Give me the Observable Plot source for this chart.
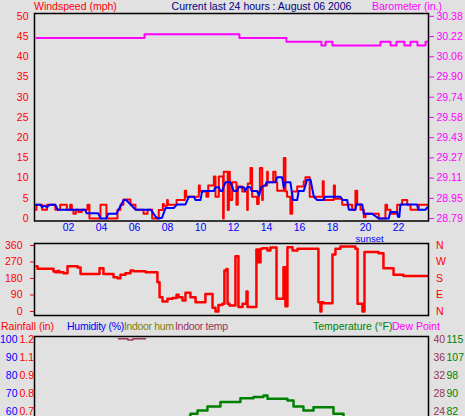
<!DOCTYPE html>
<html><head><meta charset="utf-8">
<script src="https://cdn.jsdelivr.net/npm/d3@7"></script>
<script src="https://cdn.jsdelivr.net/npm/@observablehq/plot@0.6"></script>
<style>
html,body{margin:0;padding:0;background:#e1e1e1;overflow:hidden;}
#root{position:relative;width:465px;height:416px;overflow:hidden;background:#e1e1e1;}
#root svg{position:absolute;left:0;}
</style></head><body><div id="root"></div><script>
// ---------- data ----------
const hourTicks = [2,4,6,8,10,12,14,16,18,20,22];
const windTicks = [0,5,10,15,20,25,30,35,40,45,50];
const baroTicks = ["28.79","28.95","29.11","29.27","29.43","29.58","29.74","29.90","30.06","30.22","30.38"];
const sunsetHour = 20.25;

// barometer (in.), [hour, value]
const barometer = [[0.06,30.21],[6.61,30.24],[12.36,30.21],[15.21,30.18],[17.33,30.15],[17.58,30.18],[18.0,30.15],[20.91,30.18],[21.52,30.15],[21.88,30.18],[22.36,30.15],[22.73,30.18],[23.15,30.15],[23.64,30.18],[23.76,30.18]];

// wind speed (mph), [hour, value]
const windSpeed = [[0,2.2],[0.06,3.4],[0.4,2.2],[0.7,3.4],[1.2,2.2],[1.5,3.4],[1.9,2.2],[2.1,3.4],[2.2,2.2],[2.3,1.2],[2.45,2.2],[2.6,1.6],[2.8,2.2],[3.15,3.4],[3.27,0],[3.94,3.4],[4.3,0],[4.97,2.2],[5.15,3.4],[5.33,4.7],[5.76,3.4],[6.06,2.2],[6.55,1.2],[6.79,2.2],[7.07,0],[7.47,2.1],[7.72,3.6],[7.78,3.2],[7.98,4.6],[8.02,3.4],[8.55,4.6],[9.05,6.9],[9.13,5.4],[9.9,8.2],[9.96,6.7],[10.36,5.4],[10.47,8.2],[10.81,10.4],[10.91,5.4],[11.11,10.4],[11.37,0],[11.41,11.6],[11.65,2.1],[11.72,11.6],[11.78,4.6],[11.92,9.0],[12.18,3.4],[12.26,7.9],[12.53,6.7],[12.83,2.1],[12.87,8.7],[13.03,12.5],[13.13,5.4],[13.43,3.6],[13.53,6.7],[13.6,12.5],[13.74,4.6],[13.78,8.2],[14.04,11.6],[14.08,9.0],[14.41,11.6],[14.55,9.0],[14.65,6.9],[15.05,15.0],[15.15,6.7],[15.25,5.4],[15.45,1.2],[15.56,6.7],[15.86,7.9],[16.26,9.2],[16.36,10.2],[16.62,5.4],[17.41,9.2],[17.47,4.6],[18.08,8.2],[18.15,4.9],[18.59,3.4],[19.19,2.2],[19.39,6.9],[19.5,3.5],[19.7,2.2],[19.9,0.3],[20.0,1.2],[20.81,0],[21.21,3.4],[21.31,2.2],[21.52,1.2],[21.92,3.4],[22.22,4.6],[22.53,3.4],[22.73,2.2],[23.23,3.4],[23.76,3.4]];

// average wind speed (mph), [hour, value]
const windAvg = [[0,3.4],[0.3,3.4],[0.4,2.8],[0.55,3.2],[0.7,2.8],[0.85,3.4],[1.2,3.4],[1.35,2.2],[3.0,2.2],[3.1,1.3],[3.8,1.3],[3.95,0],[4.3,0],[4.4,1.2],[4.9,1.2],[5.35,4.6],[5.5,4.6],[6.06,2.2],[7.0,2.2],[7.27,0.5],[7.45,0],[7.67,0.2],[7.88,2.6],[8.38,2.6],[8.58,3.5],[9.09,3.5],[9.29,5.4],[9.6,5.4],[9.7,4.6],[10.0,4.6],[10.1,6.8],[10.81,6.8],[10.9,7.75],[11.11,7.75],[11.2,6.8],[11.31,6.8],[11.52,9.0],[11.82,9.0],[12.02,6.8],[12.22,6.8],[12.3,7.75],[12.63,7.75],[12.7,6.8],[12.83,7.75],[13.03,7.75],[13.1,6.8],[13.43,6.8],[13.55,5.7],[13.7,7.9],[13.94,8.2],[14.0,9.0],[14.55,9.0],[14.65,10.2],[14.95,10.2],[15.05,7.75],[15.15,9.0],[15.45,9.0],[15.6,4.6],[15.86,4.6],[15.95,6.8],[16.26,6.8],[16.46,9.6],[16.67,9.6],[16.87,5.4],[17.07,4.6],[17.47,4.6],[17.55,5.4],[18.48,5.4],[18.6,4.6],[18.89,4.6],[18.99,2.2],[19.39,2.2],[19.45,3.5],[19.8,3.5],[19.9,1.2],[20.4,1.2],[20.81,0],[21.41,0],[21.5,1.6],[21.92,1.6],[21.97,0.4],[22.05,0.4],[22.12,3.5],[23.13,3.5],[23.2,2.2],[23.64,2.2],[23.76,2.8]];

// wind direction (degrees), [hour, value]
const dirTicks = [0,90,180,270,360];
const compassLabels = ["N","E","S","W","N"];
const windDir = [[0.06,247],[0.12,233],[1.09,218],[1.21,214],[1.33,221],[1.45,214],[1.7,209],[1.94,247],[2.55,240],[2.73,204],[3.88,236],[4.12,204],[4.73,187],[4.97,181],[5.15,200],[5.45,209],[5.76,223],[5.94,220],[6.67,214],[7.39,160],[7.52,78],[7.7,54],[8.0,69],[8.3,74],[8.55,92],[8.67,78],[8.91,60],[9.09,102],[9.39,78],[9.7,51],[10.3,96],[10.73,20],[10.91,0],[11.09,36],[11.33,42],[11.45,223],[11.58,232],[11.64,42],[11.76,33],[12.12,302],[12.3,24],[12.55,42],[12.79,109],[12.85,24],[13.39,338],[13.52,269],[13.64,342],[13.76,345],[14.06,333],[14.24,349],[14.61,69],[15.03,242],[15.15,29],[15.27,351],[15.58,333],[15.88,342],[17.15,51],[17.27,0],[17.33,51],[17.45,45],[18.0,311],[18.18,342],[18.48,355],[19.39,342],[19.52,42],[19.82,0],[19.94,324],[20.79,318],[21.09,236],[21.7,200],[22.3,193],[23.76,193]];

// bottom panel axes
const humTicks = [100,90,80,70,60];
const rainLabels = ["1.2","1.1","0.9","0.8","0.7"];
const inTempLabels = ["40","36","32","28","24"];
const tempLabels = ["115","107","98","90","82"];

// outdoor temperature (°F), [hour, value]
const temperature = [[9.25,79.5],[9.39,81],[9.82,82.5],[10.42,84.3],[11.21,86.3],[12.42,88.1],[13.21,88.6],[13.82,89.3],[14.06,87.8],[15.27,87.0],[15.64,84.3],[16.24,82.5],[16.85,84.0],[18.06,81],[18.67,79.5]];
// indoor temperature, [hour, value]
const indoorTemp = [[5.03,40.15],[5.6,39.9],[5.9,40.15],[6.67,40.15]];

// ---------- helpers ----------
const FONT = "'Liberation Sans', Arial, sans-serif";
const FS = 10.5;
const baseStyle = {background:"transparent", fontFamily:FONT, fontSize:FS+"px", overflow:"visible"};
const xDomain = [-0.06, 23.82];
const root = document.getElementById("root");
function place(svg, top){ svg.style.top = top + "px"; root.appendChild(svg); }
const baroLo = +baroTicks[0], baroHi = +baroTicks[baroTicks.length-1];
const baroToWind = v => (v - baroLo) / (baroHi - baroLo) * windTicks[windTicks.length-1];
const tLo = +tempLabels[tempLabels.length-1], tHi = +tempLabels[0];
const itLo = +inTempLabels[inTempLabels.length-1], itHi = +inTempLabels[0];
const hLo = humTicks[humTicks.length-1], hHi = humTicks[0];
const tempToHum = v => hLo + (v - tLo) / (tHi - tLo) * (hHi - hLo);
const inTempToHum = v => hLo + (v - itLo) / (itHi - itLo) * (hHi - hLo);

// ---------- top panel ----------
place(Plot.plot({
  width:465, height:243, marginLeft:34, marginRight:37, marginTop:13, marginBottom:22.5,
  style:baseStyle,
  x:{domain:xDomain},
  y:{domain:[-0.6,50.7]},
  marks:[
    Plot.axisY(windTicks,{anchor:"left", tickSize:0, tickPadding:6, color:"#ff0000", label:null, tickFormat:d=>String(d)}),
    Plot.axisY(windTicks,{anchor:"right", tickSize:5, tickPadding:3, color:"#ff00ff", label:null, tickFormat:d=>baroTicks[windTicks.indexOf(d)]}),
    Plot.axisX(hourTicks,{anchor:"bottom", tickSize:0, tickPadding:2.5, color:"#0000ff", label:null, tickFormat:d=>String(d).padStart(2,"0")}),
    Plot.line(barometer,{x:d=>d[0], y:d=>baroToWind(d[1]), curve:"step-after", stroke:"#ff00ff", strokeWidth:2}),
    Plot.line(windSpeed,{x:d=>d[0], y:d=>d[1], curve:"step-after", stroke:"#ff0000", strokeWidth:2}),
    Plot.line(windAvg,{x:d=>d[0], y:d=>d[1], stroke:"#0000ff", strokeWidth:2}),
    Plot.text([sunsetHour],{x:d=>d, frameAnchor:"bottom", lineAnchor:"top", dy:14.5, fontSize:9.5, text:()=>"sunset", fill:"#0000ff"}),
    Plot.frame({stroke:"#000", strokeWidth:1.5})
  ]
}), 0);

// ---------- middle panel (wind direction) ----------
place(Plot.plot({
  width:465, height:80, marginLeft:34, marginRight:37, marginTop:5, marginBottom:3,
  style:baseStyle,
  x:{domain:xDomain, axis:null},
  y:{domain:[-21.8,370.9]},
  marks:[
    Plot.axisY(dirTicks,{anchor:"left", tickSize:4, tickPadding:8, color:"#ff0000", label:null, tickFormat:d=>String(d)}),
    Plot.axisY(dirTicks,{anchor:"right", tickSize:0, tickPadding:7.5, color:"#ff0000", label:null, tickFormat:d=>compassLabels[dirTicks.indexOf(d)]}),
    Plot.line(windDir,{x:d=>d[0], y:d=>d[1], curve:"step-after", stroke:"#ff0000", strokeWidth:2.5}),
    Plot.frame({stroke:"#000", strokeWidth:1.5})
  ]
}), 238);

// ---------- bottom panel ----------
place(Plot.plot({
  width:465, height:200, marginLeft:34, marginRight:37, marginTop:6, marginBottom:20,
  style:baseStyle,
  x:{domain:xDomain, axis:null},
  y:{domain:[5,101.67]},
  marks:[
    Plot.axisY(humTicks,{anchor:"left", tickSize:0, tickPadding:17, color:"#0000ff", label:null, tickFormat:d=>String(d)}),
    Plot.axisY(humTicks,{anchor:"left", tickSize:0, tickPadding:15, textAnchor:"start", color:"#ff0000", label:null, tickFormat:d=>rainLabels[humTicks.indexOf(d)]}),
    Plot.axisY(humTicks,{anchor:"right", tickSize:0, tickPadding:5, color:"#993355", label:null, tickFormat:d=>inTempLabels[humTicks.indexOf(d)]}),
    Plot.axisY(humTicks,{anchor:"right", tickSize:0, tickPadding:18, color:"#008000", label:null, tickFormat:d=>tempLabels[humTicks.indexOf(d)]}),
    Plot.line(temperature,{x:d=>d[0], y:d=>tempToHum(d[1]), curve:"step-after", stroke:"#008000", strokeWidth:2.5}),
    Plot.line(indoorTemp,{x:d=>d[0], y:d=>inTempToHum(d[1]), curve:"step-after", stroke:"#993355", strokeWidth:1.5}),
    Plot.frame({stroke:"#000", strokeWidth:1.5})
  ]
}), 330);

// ---------- titles and legends ----------
const labels = [
  {t:"Windspeed (mph)", x:34, y:10, c:"#ff0000", a:"start", ls:0},
  {t:"Current last 24 hours : August 06 2006", x:261.5, y:10, c:"#000080", a:"middle", ls:0},
  {t:"Barometer (in.)", x:372, y:10, c:"#ff00ff", a:"start", ls:0},
  {t:"Rainfall (in)", x:1, y:330, c:"#ff0000", a:"start", ls:0},
  {t:"Humidity (%)", x:67, y:330, c:"#0000ff", a:"start", ls:-0.25},
  {t:"Indoor hum", x:124, y:330, c:"#808000", a:"start", ls:-0.35},
  {t:"Indoor temp", x:175, y:330, c:"#993355", a:"start", ls:-0.3},
  {t:"Temperature (°F)", x:313, y:330, c:"#008000", a:"start", ls:0},
  {t:"Dew Point", x:392, y:330, c:"#ff00ff", a:"start", ls:0}
];
const ov = d3.create("svg").attr("width",465).attr("height",416)
  .style("top","0px").style("font-family",FONT).style("font-size",FS+"px");
ov.selectAll("text").data(labels).join("text")
  .attr("x",d=>d.x).attr("y",d=>d.y).attr("fill",d=>d.c).attr("text-anchor",d=>d.a)
  .attr("letter-spacing",d=>d.ls).text(d=>d.t);
root.appendChild(ov.node());
</script></body></html>
